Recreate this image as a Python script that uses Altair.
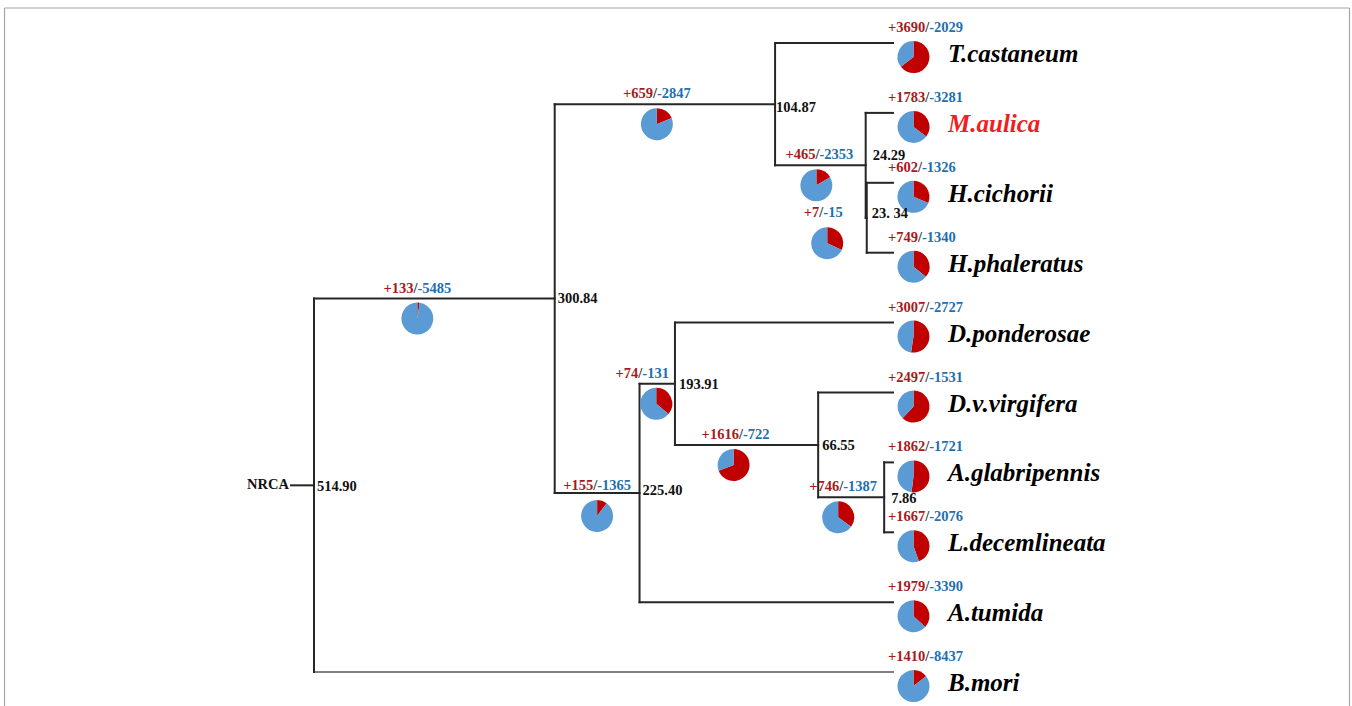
import math

import altair as alt
import pandas as pd

# ---------------------------------------------------------------------------
# Tree: tips (top to bottom), internal nodes with divergence ages (Myr),
# and gene-family gains / losses on the branch leading to each node.
# ---------------------------------------------------------------------------
TIP_NAMES = ["T.castaneum", "M.aulica", "H.cichorii", "H.phaleratus",
             "D.ponderosae", "D.v.virgifera", "A.glabripennis",
             "L.decemlineata", "A.tumida", "B.mori"]
TIP_PARENTS = ["n104", "n24", "n23", "n23", "n193", "n66", "n7", "n7",
               "n225", "root"]
TIP_GAINS = [3690, 1783, 602, 749, 3007, 2497, 1862, 1667, 1979, 1410]
TIP_LOSSES = [2029, 3281, 1326, 1340, 2727, 1531, 1721, 2076, 3390, 8437]

NODE_IDS = ["root", "n300", "n104", "n24", "n23", "n225", "n193", "n66", "n7"]
NODE_PARENTS = [None, "root", "n300", "n104", "n24", "n300", "n225", "n193",
                "n66"]
NODE_AGES = [514.90, 300.84, 104.87, 24.29, 23.34, 225.40, 193.91, 66.55, 7.86]
NODE_LABELS = ["514.90", "300.84", "104.87", "24.29", "23. 34", "225.40",
               "193.91", "66.55", "7.86"]
NODE_GAINS = [None, 133, 659, 465, 7, 155, 74, 1616, 746]
NODE_LOSSES = [None, 5485, 2847, 2353, 15, 1365, 131, 722, 1387]

ROOT_NAME = "NRCA"
HIGHLIGHT_TIP = "M.aulica"

# ---------------------------------------------------------------------------
# Canvas geometry and styling
# ---------------------------------------------------------------------------
W, H = 1352, 706
X_TIP = 893.0          # pixel column of age 0
PX_PER_MYR = 1.1245
Y_TOP = 43.0           # pixel row of the first tip
ROW_PX = 69.9          # spacing between tips
ROOT_STEM_PX = 23
PIE_R = 16

FONT = "Liberation Serif"
FS = 14.5
TIP_FS = 25
EDGE_COLOR = "#262626"
OUTGROUP_EDGE = "#808080"
PIE_GAIN = "#C00000"
PIE_LOSS = "#5B9BD5"
TXT_GAIN = "#A51B1B"
TXT_LOSS = "#1F70AE"
TXT_SLASH = "#333333"
HIGHLIGHT = "#F01E1E"

# label nudges (px) for branch annotations and node ages
BRANCH_LABEL_DX = {"n300": -17, "n104": -8, "n225": 0, "n193": -15,
                   "n66": -11, "n24": -1, "n7": -8, "n23": -43}
BRANCH_LABEL_DY = {"n225": -7, "n23": -4.5}
PIE_DX = {"n193": 14, "n66": -2, "n24": -3, "n7": -5, "n23": 4}
AGE_NUDGE = {"n24": (7, -9), "n23": (5, -4), "n104": (1, 4), "n7": (7, 2),
             "root": (3, 2), "n300": (3, 0), "n225": (3, -2)}


def age_at(px):
    return (X_TIP - px) / PX_PER_MYR


def px_of(age):
    return X_TIP - age * PX_PER_MYR


def row_at(py):
    return (py - Y_TOP) / ROW_PX


def py_of(row):
    return Y_TOP + row * ROW_PX


# ---------------------------------------------------------------------------
# Layout: tips on consecutive rows, internal nodes midway between children
# ---------------------------------------------------------------------------
parent = dict(zip(TIP_NAMES, TIP_PARENTS))
parent.update({n: p for n, p in zip(NODE_IDS, NODE_PARENTS)})
age = {t: 0.0 for t in TIP_NAMES}
age.update(dict(zip(NODE_IDS, NODE_AGES)))
children = {n: [] for n in NODE_IDS}
for child, p in parent.items():
    if p is not None:
        children[p].append(child)

row = {t: float(i) for i, t in enumerate(TIP_NAMES)}


def layout(n):
    if n in row:
        return row[n]
    row[n] = sum(layout(c) for c in children[n]) / len(children[n])
    return row[n]


layout("root")

gains = dict(zip(TIP_NAMES, TIP_GAINS))
gains.update({n: g for n, g in zip(NODE_IDS, NODE_GAINS) if g is not None})
losses = dict(zip(TIP_NAMES, TIP_LOSSES))
losses.update({n: l for n, l in zip(NODE_IDS, NODE_LOSSES) if l is not None})

# ---------------------------------------------------------------------------
# Edge segments
# ---------------------------------------------------------------------------
segs = []
for n, p in parent.items():
    if p is None:
        continue
    col = OUTGROUP_EDGE if n == "B.mori" else EDGE_COLOR
    segs.append(dict(x=age[p], x2=age[n], y=row[n], y2=row[n], col=col))
for n in NODE_IDS:
    rs = [row[c] for c in children[n]]
    segs.append(dict(x=age[n], x2=age[n], y=min(rs), y2=max(rs), col=EDGE_COLOR))
segs.append(dict(x=age["root"] + ROOT_STEM_PX / PX_PER_MYR, x2=age["root"],
                 y=row["root"], y2=row["root"], col=EDGE_COLOR))
seg_df = pd.DataFrame(segs)

# ---------------------------------------------------------------------------
# Pies and gain/loss annotations
# ---------------------------------------------------------------------------
W_SLASH = 0.278 * FS


def text_w(s):
    w = {"+": 0.570, "-": 0.333, "/": 0.278, ".": 0.25, " ": 0.25}
    return sum(w.get(ch, 0.5) for ch in s) * FS


pie_rows, lab_rows = [], []
for n in list(gains):
    g, l = gains[n], losses[n]
    gs, ls = f"+{g}", f"-{l}"
    line_y = py_of(row[n])
    if n in TIP_NAMES:
        left = X_TIP - 5
        slash_x = left + text_w(gs) + W_SLASH / 2
        lab_y = line_y - 15
        pie_x, pie_y = X_TIP + 20.5, line_y + 14
    else:
        mid = (px_of(age[parent[n]]) + px_of(age[n])) / 2
        cx = mid + BRANCH_LABEL_DX.get(n, 0)
        total = text_w(gs) + W_SLASH + text_w(ls)
        slash_x = cx - total / 2 + text_w(gs) + W_SLASH / 2
        lab_y = line_y + BRANCH_LABEL_DY.get(n, -10)
        pie_x = cx + PIE_DX.get(n, 0)
        pie_y = lab_y + 30
    frac = g / (g + l)
    pie_rows.append(dict(x=age_at(pie_x), y=row_at(pie_y), a0=0.0,
                         a1=frac * 2 * math.pi, col=PIE_GAIN))
    pie_rows.append(dict(x=age_at(pie_x), y=row_at(pie_y),
                         a0=frac * 2 * math.pi, a1=2 * math.pi, col=PIE_LOSS))
    lab_rows.append(dict(x=age_at(slash_x), y=row_at(lab_y), gain=gs, loss=ls))
pie_df = pd.DataFrame(pie_rows)
lab_df = pd.DataFrame(lab_rows)

# node ages
age_rows = []
for n, txt in zip(NODE_IDS, NODE_LABELS):
    dx, dy = AGE_NUDGE.get(n, (4, 1))
    age_rows.append(dict(x=age_at(px_of(age[n]) + dx),
                         y=row_at(py_of(row[n]) + dy), label=txt))
age_df = pd.DataFrame(age_rows)

# species names
tip_df = pd.DataFrame([
    dict(x=age_at(X_TIP + 55), y=row_at(py_of(row[t]) + 11), name=t,
         col=HIGHLIGHT if t == HIGHLIGHT_TIP else "#000000")
    for t in TIP_NAMES
])

root_df = pd.DataFrame([dict(x=age["root"] + (ROOT_STEM_PX + 2) / PX_PER_MYR,
                             y=row["root"], name=ROOT_NAME)])

# ---------------------------------------------------------------------------
# Chart
# ---------------------------------------------------------------------------
xs = alt.Scale(domain=[age_at(0), age_at(W)], nice=False, zero=False)
ys = alt.Scale(domain=[row_at(H), row_at(0)], nice=False, zero=False)
X = alt.X("x:Q", scale=xs, axis=None)
Y = alt.Y("y:Q", scale=ys, axis=None)

edges = alt.Chart(seg_df).mark_rule(strokeWidth=2, strokeCap="square").encode(
    x=X, x2="x2:Q", y=Y, y2="y2:Q", color=alt.Color("col:N", scale=None))

pies = alt.Chart(pie_df).mark_arc(radius=PIE_R).encode(
    x=X, y=Y,
    theta=alt.Theta("a0:Q", scale=None, stack=None),
    theta2="a1:Q",
    color=alt.Color("col:N", scale=None))

txt = dict(font=FONT, fontWeight="bold", fontSize=FS, baseline="middle")
gain_txt = alt.Chart(lab_df).mark_text(align="right", dx=-W_SLASH / 2,
                                       color=TXT_GAIN, **txt).encode(
    x=X, y=Y, text="gain:N")
slash_txt = alt.Chart(lab_df).mark_text(align="center", color=TXT_SLASH,
                                        **txt).encode(
    x=X, y=Y, text=alt.value("/"))
loss_txt = alt.Chart(lab_df).mark_text(align="left", dx=W_SLASH / 2,
                                       color=TXT_LOSS, **txt).encode(
    x=X, y=Y, text="loss:N")

age_txt = alt.Chart(age_df).mark_text(align="left", color="#111111",
                                      **txt).encode(x=X, y=Y, text="label:N")

root_txt = alt.Chart(root_df).mark_text(align="right", color="#111111",
                                        **txt).encode(x=X, y=Y, text="name:N")

tip_txt = alt.Chart(tip_df).mark_text(
    align="left", baseline="middle", font=FONT, fontWeight="bold",
    fontStyle="italic", fontSize=TIP_FS).encode(
    x=X, y=Y, text="name:N", color=alt.Color("col:N", scale=None))

frame_df = pd.DataFrame([{"k": 0}])
frame_style = dict(color="#a6a6a6", strokeWidth=1.2)
frame_left = alt.Chart(frame_df).mark_rule(**frame_style).encode(
    x=alt.value(4.5), y=alt.value(8), y2=alt.value(H))
frame_top = alt.Chart(frame_df).mark_rule(**frame_style).encode(
    x=alt.value(4.5), x2=alt.value(1349.5), y=alt.value(8))
frame_right = alt.Chart(frame_df).mark_rule(**frame_style).encode(
    x=alt.value(1349.5), y=alt.value(8), y2=alt.value(H))

chart = alt.layer(
    frame_left, frame_top, frame_right,
    edges, pies, gain_txt, slash_txt, loss_txt, age_txt, root_txt, tip_txt,
).properties(
    width=W, height=H, padding=0,
    autosize=alt.AutoSizeParams(type="none"),
    background="white",
).configure_view(stroke=None)

chart.save("out.html", embed_options={"renderer": "svg", "actions": False})
